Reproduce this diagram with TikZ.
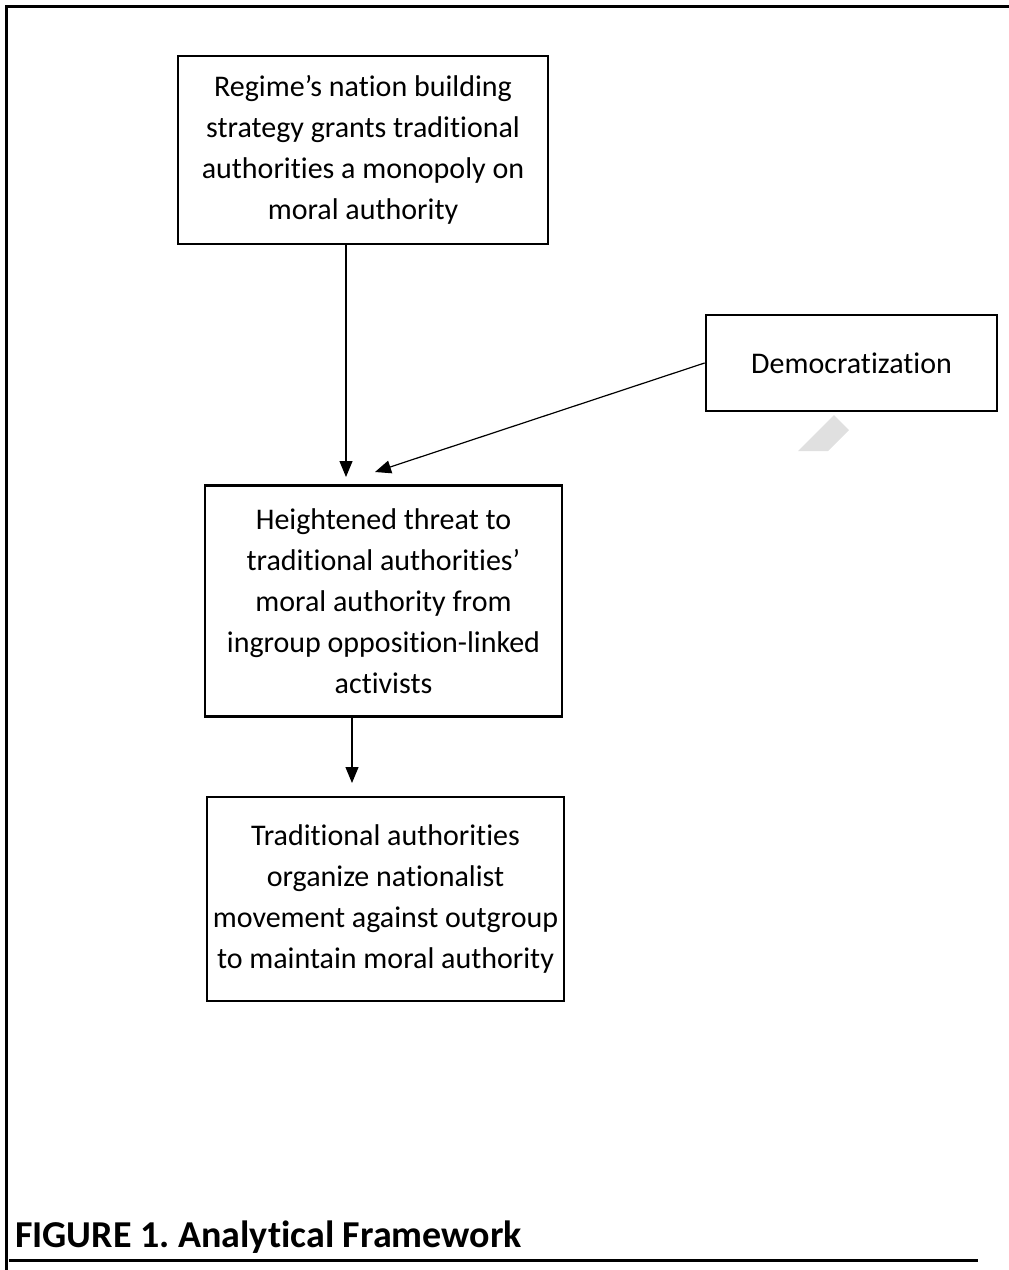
\documentclass[tikz,border=0pt]{standalone}
\usepackage{fontspec}
\setmainfont{Carlito}[Ligatures=NoCommon]
\usepackage{tikz}
\usetikzlibrary{arrows.meta}
\frenchspacing

\tikzset{
  box/.style={draw, line width=2.8pt, inner sep=0pt, align=center,
    font=\fontsize{30}{41}\selectfont},
  arr/.style={line width=1.2pt, -{Triangle[length=16pt,width=13pt]}},
  frame/.style={line width=3pt}
}

\begin{document}
\begin{tikzpicture}[x=1pt, y=-1pt]
        \useasboundingbox (0,0) rectangle (1009,1270);
        % Figure 1
        \node[box, minimum width=370pt, minimum height=188pt] (regime) at (363,150)
          {Regime’s nation building\\strategy grants traditional\\authorities a monopoly on\\moral authority};
        \node[box, minimum width=291pt, minimum height=96pt] (demo) at (851.5,363) {Democratization};
        \node[box, minimum width=357pt, minimum height=231pt] (threat) at (383.5,601)
          {Heightened threat to\\traditional authorities’\\moral authority from\\ingroup opposition-linked\\activists};
        \node[box, minimum width=357pt, minimum height=204pt] (movement) at (385.5,899)
          {Traditional authorities\\organize nationalist\\movement against outgroup\\to maintain moral authority};

        \coordinate (tipA) at (346,477);
        \coordinate (tipB) at (375,472);
        \coordinate (tipC) at (352,783);

        \draw[arr] (regime.south -| tipA) -- (tipA);
        \draw[arr] (demo.west) -- (tipB);
        \draw[arr] (threat.south -| tipC) -- (tipC);

        % smudge
        \fill[black!12] (798,451) -- (834,415) -- (849,430) -- (828,451) -- cycle;

        % frame and caption
        \draw[frame] (6,1270) -- (6,6) -- (1009,6);
        \draw[frame] (9,1260) -- (978,1260);
        \node[anchor=base west, inner sep=0pt, font=\fontsize{38}{44}\selectfont\bfseries] (caption) at (15,1247)
          {FIGURE 1. Analytical Framework};
    \end{tikzpicture}
\end{document}
